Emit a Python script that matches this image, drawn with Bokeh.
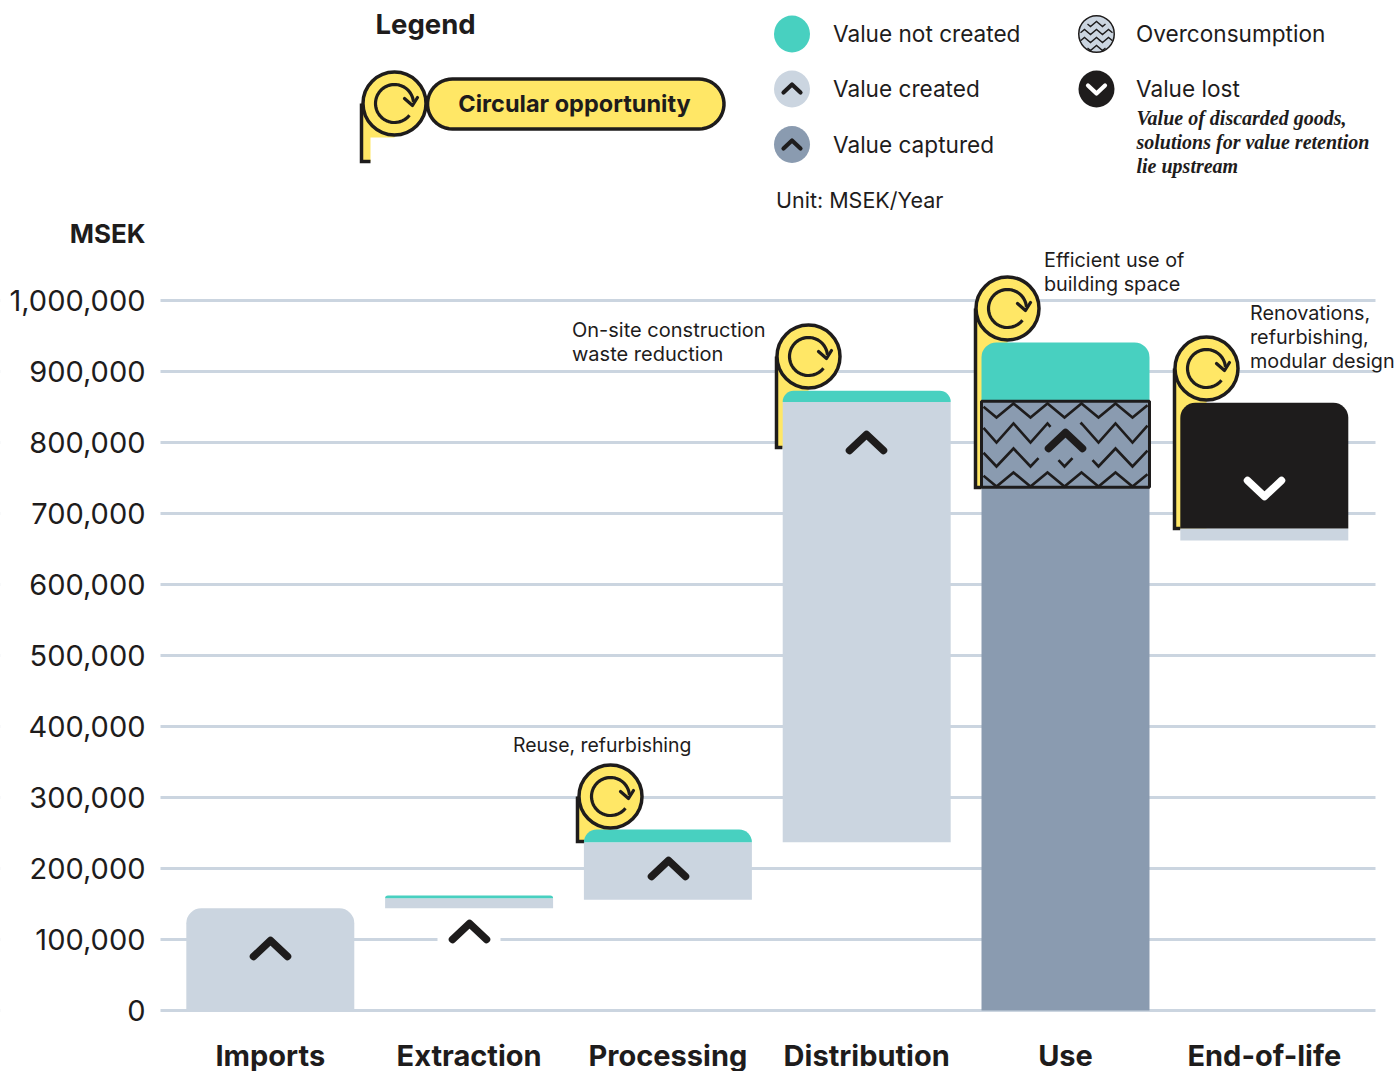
import numpy as np
from bokeh.core.properties import value
from bokeh.embed import file_html
from bokeh.models import FixedTicker, NumeralTickFormatter, Range1d
from bokeh.plotting import figure
from bokeh.resources import INLINE

categories = ["Imports", "Extraction", "Processing", "Distribution", "Use", "End-of-life"]
y_ticks = [0, 100000, 200000, 300000, 400000, 500000, 600000, 700000, 800000, 900000, 1000000]
unit_title = "MSEK"

created_cats = ["Imports", "Extraction", "Processing", "Distribution", "End-of-life"]
created_low = [0, 144000, 156000, 237000, 662000]
created_high = [144000, 158000, 237000, 857000, 679000]

not_created_cats = ["Extraction", "Processing", "Distribution", "Use"]
not_created_low = [158000, 237000, 857000, 858000]
not_created_high = [162000, 255000, 873000, 941000]

captured_cats = ["Use"]
captured_low = [0]
captured_high = [737000]

over_cats = ["Use"]
over_low = [737000]
over_high = [858000]

lost_cats = ["End-of-life"]
lost_low = [679000]
lost_high = [856000]

INK = "#1E1C1C"
LIGHT = "#CBD5E0"
DARK = "#8A9BB0"
TEAL = "#48D0C0"
YELLOW = "#FFE766"
SANS = "Inter"
SERIF = "Liberation Serif"

W, H = 1396, 1071
GRID_START, GRID_END = 160, 1375
ZERO_PX, PX_PER_UNIT = 1010, 710 / 1e6
BAR_WIDTH = 0.845
FIRST_BAR, SLOT = 269.8, 198.8


def pos(names):
    return [categories.index(n) for n in names]


# The plotting frame fills the page; both axes are pinned inside it.
p = figure(
    width=W, height=H, output_backend="svg", toolbar_location=None,
    x_range=Range1d(-FIRST_BAR / SLOT, (W - FIRST_BAR) / SLOT),
    y_range=Range1d((ZERO_PX - H) / PX_PER_UNIT, ZERO_PX / PX_PER_UNIT),
    min_border_left=0, min_border_right=0, min_border_top=0, min_border_bottom=0,
    outline_line_color=None, background_fill_color="white", border_fill_color="white",
)
# A second pair of ranges in page pixels carries the legend and the ornaments.
p.extra_x_ranges = {"px": Range1d(0, W)}
p.extra_y_ranges = {"px": Range1d(H, 0)}

p.yaxis.fixed_location = (GRID_START - FIRST_BAR) / SLOT
p.yaxis.ticker = FixedTicker(ticks=y_ticks)
p.yaxis.formatter = NumeralTickFormatter(format="0,0")
p.yaxis.axis_line_color = None
p.yaxis.major_tick_line_color = None
p.yaxis.minor_tick_line_color = None
p.yaxis.major_tick_out = 0
p.yaxis.major_label_text_font = SANS
p.yaxis.major_label_text_font_size = "29px"
p.yaxis.major_label_text_color = INK
p.yaxis.major_label_standoff = 15

p.xaxis.fixed_location = 0
p.xaxis.ticker = FixedTicker(ticks=list(range(len(categories))))
p.xaxis.major_label_overrides = {i: c for i, c in enumerate(categories)}
p.xaxis.axis_line_color = None
p.xaxis.major_tick_line_color = None
p.xaxis.minor_tick_line_color = None
p.xaxis.major_tick_out = 0
p.xaxis.major_label_text_font = SANS
p.xaxis.major_label_text_font_size = "29px"
p.xaxis.major_label_text_font_style = "bold"
p.xaxis.major_label_text_color = INK
p.xaxis.major_label_standoff = 27

p.xgrid.grid_line_color = None
p.ygrid.ticker = FixedTicker(ticks=y_ticks)
p.ygrid.grid_line_color = LIGHT
p.ygrid.grid_line_width = 3


def px_line(xs, ys, color=INK, width=3.0, cap="round", join="round"):
    p.line(xs, ys, x_range_name="px", y_range_name="px", line_color=color, line_width=width,
           line_cap=cap, line_join=join)


def px_text(x, y, text, size, font=SANS, style="normal", align="left"):
    p.text([x], [y], text=[text], x_range_name="px", y_range_name="px", text_font=value(font),
           text_font_size=f"{size}px", text_font_style=style, text_color=INK,
           text_baseline="middle", text_align=align)


def chevron(x, y, half=17, rise=16, width=7.5, color=INK, up=True):
    tip = y if up else y + rise
    end = y + rise if up else y
    px_line([x - half, x, x + half], [end, tip, end], color=color, width=width)


def tail(left, bar_left, cx, cy, bottom, notch=None):
    """Yellow ribbon running down from a badge to the bar it annotates."""
    xs = [left, cx, cx, bar_left, bar_left, left]
    ys = [cy, cy, notch if notch else bottom, notch if notch else bottom, bottom, bottom]
    p.patch(xs, ys, x_range_name="px", y_range_name="px", fill_color=YELLOW, line_color=None)
    px_line([left, left, bar_left], [cy, bottom, bottom], width=3.5, cap="butt", join="miter")


def badge(cx, cy):
    """Round yellow badge holding a circular arrow."""
    p.circle([cx], [cy], radius=31.5, x_range_name="px", y_range_name="px",
             fill_color=YELLOW, line_color=INK, line_width=3.5)
    a = np.radians(np.linspace(-5, -322, 60))
    px_line(cx + 19 * np.cos(a), cy + 19 * np.sin(a), width=3.2, cap="butt")
    px_line([cx + 10, cx + 18, cx + 23], [cy - 5, cy + 2, cy - 6], width=3.2)


def zigzag(left, right, peak, low, first_peak, period=34.0, gaps=()):
    """Draw one saw-tooth row between left and right, skipping the x intervals in gaps."""
    half = period / 2
    k0 = int(np.floor((left - first_peak) / half)) - 1
    k1 = int(np.ceil((right - first_peak) / half)) + 1
    vx = first_peak + np.arange(k0, k1 + 1) * half
    vy = np.where(np.arange(k0, k1 + 1) % 2 == 0, peak, low)
    edges = [left]
    for a, b in gaps:
        edges += [a, b]
    edges.append(right)
    for a, b in zip(edges[0::2], edges[1::2]):
        inner = (vx > a) & (vx < b)
        xs = np.r_[a, vx[inner], b]
        ys = np.interp(xs, vx, vy)
        px_line(xs, ys, width=2.6, cap="butt", join="miter")


# Gridlines only span the plot column; white margins hide them on either side.
p.quad(left=[-10, GRID_END], right=[GRID_START, W + 10], top=[-10, -10], bottom=[H + 10, H + 10],
       x_range_name="px", y_range_name="px", fill_color="white", line_color=None)

# Ribbons sit behind the bars, the badges in front of them.
tail(577, 584, 610, 796, 841)
tail(776, 782, 808, 356, 447)
tail(975, 981, 1007, 308, 487)
tail(1174, 1180, 1206, 368, 528)

# The axis gridline is interrupted around the chevron under the Extraction bar.
p.quad(left=[437], right=[500], top=[930], bottom=[948], x_range_name="px", y_range_name="px",
       fill_color="white", line_color=None)

for cat, lo, hi in zip(created_cats, created_low, created_high):
    r = 15 if cat == "Imports" else 0
    p.vbar(x=pos([cat]), bottom=[lo], top=[hi], width=BAR_WIDTH, fill_color=LIGHT, line_color=None,
           border_radius=(r, r, 0, 0))

teal_radius = {"Extraction": 3, "Processing": 13, "Distribution": 11, "Use": 15}
for cat, lo, hi in zip(not_created_cats, not_created_low, not_created_high):
    r = teal_radius[cat]
    p.vbar(x=pos([cat]), bottom=[lo], top=[hi], width=BAR_WIDTH, fill_color=TEAL, line_color=None,
           border_radius=(r, r, 0, 0))

p.vbar(x=pos(captured_cats), bottom=captured_low, top=captured_high, width=BAR_WIDTH,
       fill_color=DARK, line_color=None)
p.vbar(x=pos(over_cats), bottom=over_low, top=over_high, width=BAR_WIDTH,
       fill_color=DARK, line_color=INK, line_width=3)
p.vbar(x=pos(lost_cats), bottom=lost_low, top=lost_high, width=BAR_WIDTH, fill_color=INK,
       line_color=None, border_radius=(15, 15, 0, 0))

# Saw-tooth texture across the overconsumption block.
zigzag(983, 1147, 403, 417, 1013)
zigzag(983, 1147, 423, 442, 1013, gaps=[(1050, 1080)])
zigzag(983, 1147, 448, 466, 1013, gaps=[(1038, 1058), (1072, 1092)])
zigzag(983, 1147, 472, 486, 1013)

for cx, cy in [(610, 796), (808, 356), (1007, 308), (1206, 368)]:
    badge(cx, cy)

chevron(270, 940)
chevron(469, 923)
chevron(668, 860)
chevron(866, 434)
chevron(1065, 432)
chevron(1264, 480, color="white", up=False)

px_text(145, 233, unit_title, 26, style="bold", align="right")

# Legend
px_text(375, 23, "Legend", 27.5, style="bold")
tail(361, 370, 394, 103, 161, notch=137)
badge(394, 103)
t = np.radians(np.linspace(-90, 90, 24))
pill_x = np.r_[452 + 25 * np.cos(t + np.pi), 698.5 + 25 * np.cos(t)]
pill_y = np.r_[103.5 - 25 * np.sin(t + np.pi), 103.5 - 25 * np.sin(t)]
p.patch(pill_x, pill_y, x_range_name="px", y_range_name="px", fill_color=YELLOW,
        line_color=INK, line_width=3.5)
px_text(574, 103, "Circular opportunity", 23.5, style="bold", align="center")

for cy, fill in [(33.5, TEAL), (88.5, LIGHT), (144, DARK)]:
    p.ellipse([791.5], [cy], width=36, height=37, x_range_name="px", y_range_name="px",
              fill_color=fill, line_color=None)
chevron(791.5, 84, half=8.5, rise=8, width=4.2)
chevron(791.5, 140, half=8.5, rise=8, width=4.2)

p.ellipse([1096], [33.5], width=35.5, height=36.5, x_range_name="px", y_range_name="px",
          fill_color=LIGHT, line_color=INK, line_width=1.5)
for peak, half_w in [(21, 9), (29, 16), (37, 16), (45, 9)]:
    zx = np.linspace(1096 - half_w, 1096 + half_w, 2)
    tooth = 12.0
    vx = np.arange(1096 - 2 * tooth, 1096 + 2.01 * tooth, tooth / 2)
    vy = np.where(np.arange(vx.size) % 2 == 0, peak, peak + 5)
    xs = vx[(vx > zx[0]) & (vx < zx[1])]
    xs = np.r_[zx[0], xs, zx[1]]
    px_line(xs, np.interp(xs, vx, vy), width=1.4, cap="butt", join="miter")

p.ellipse([1096], [88.5], width=36, height=37, x_range_name="px", y_range_name="px",
          fill_color=INK, line_color=None)
chevron(1096, 85, half=8.5, rise=8, width=4.2, color="white", up=False)

for x, y, label in [
    (832.5, 33, "Value not created"), (832.5, 88, "Value created"), (832.5, 144, "Value captured"),
    (1135.5, 33, "Overconsumption"), (1135.5, 88, "Value lost"),
]:
    px_text(x, y, label, 22.6)
px_text(775.5, 199.5, "Unit: MSEK/Year", 21.5)

for y, line in [(117, "Value of discarded goods,"), (141, "solutions for value retention"),
                (165, "lie upstream")]:
    px_text(1136, y, line, 20, font=SERIF, style="bold italic")

# Callouts naming each circular opportunity
for x, y, line, size in [
    (512.5, 744, "Reuse, refurbishing", 19.4),
    (571.5, 329, "On-site construction", 20),
    (571.5, 353, "waste reduction", 20),
    (1043.5, 259, "Efficient use of", 19.8),
    (1043.5, 283, "building space", 19.8),
    (1249.5, 312, "Renovations,", 19.8),
    (1249.5, 336, "refurbishing,", 19.8),
    (1249.5, 360, "modular design", 19.8),
]:
    px_text(x, y, line, size)

open("out.html", "w").write(file_html(p, INLINE))
